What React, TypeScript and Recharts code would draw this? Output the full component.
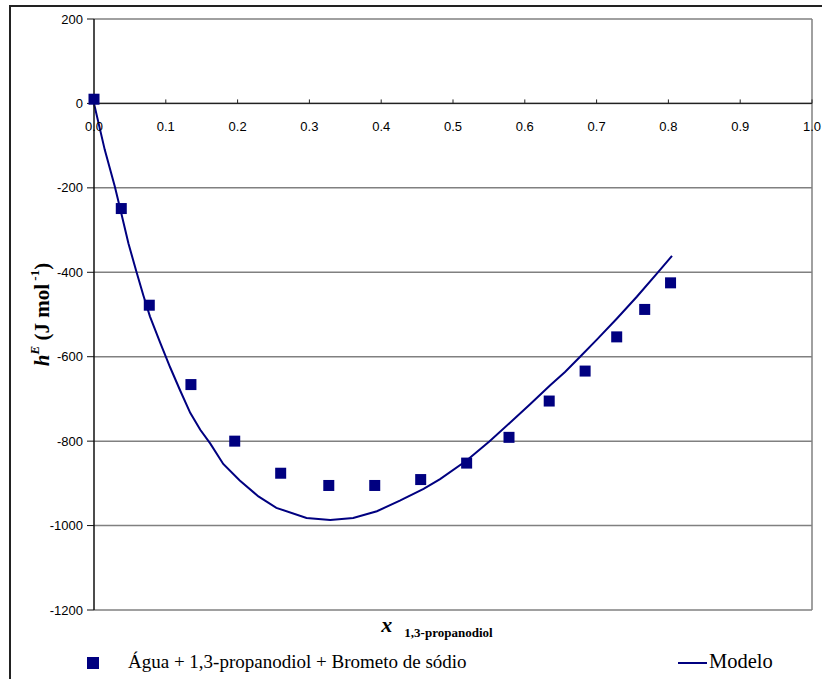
import React from "react";
import {
  ComposedChart,
  Line,
  Scatter,
  XAxis,
  YAxis,
  CartesianGrid,
  ReferenceLine,
  ReferenceDot,
  Legend,
} from "recharts";

// Experimental data: Água + 1,3-propanodiol + Brometo de sódio
const expX = [0, 0.038, 0.077, 0.135, 0.196, 0.26, 0.327, 0.391, 0.455, 0.519, 0.578, 0.634, 0.684, 0.728, 0.767, 0.803];
const expY = [10, -249, -478, -666, -800, -876, -905, -905, -891, -852, -791, -705, -634, -553, -488, -425];

// Model curve
const modelX = [0, 0.015, 0.029, 0.037, 0.048, 0.059, 0.069, 0.078, 0.092, 0.106, 0.12, 0.134, 0.148, 0.162, 0.18, 0.203, 0.229, 0.254, 0.296, 0.329, 0.361, 0.394, 0.426, 0.459, 0.482, 0.519, 0.551, 0.579, 0.607, 0.635, 0.656, 0.677, 0.7, 0.728, 0.756, 0.786, 0.805];
const modelY = [0, -110, -197, -253, -332, -398, -456, -505, -566, -625, -680, -733, -773, -806, -854, -893, -931, -958, -982, -987, -982, -966, -941, -913, -890, -846, -800, -757, -713, -668, -636, -600, -560, -510, -458, -399, -361];

const xTicks = [0, 0.1, 0.2, 0.3, 0.4, 0.5, 0.6, 0.7, 0.8, 0.9, 1.0];
const xTickLabels = ["0.0", "0.1", "0.2", "0.3", "0.4", "0.5", "0.6", "0.7", "0.8", "0.9", "1.0"];
const yTicks = [-1200, -1000, -800, -600, -400, -200, 0, 200];

const seriesName = "Água + 1,3-propanodiol + Brometo de sódio";
const modelName = "Modelo";

const expData = expX.map((x, i) => ({ x, y: expY[i] }));
const modelData = modelX.map((x, i) => ({ x, y: modelY[i] }));

const NAVY = "#000080";
const SANS = "'Liberation Sans', Arial, sans-serif";
const SERIF = "'Liberation Serif', 'Times New Roman', serif";

const Square = (props: any) => {
  const { cx, cy } = props;
  if (cx == null || cy == null) return <g />;
  return <rect x={cx - 5.5} y={cy - 5.5} width={11} height={11} fill={NAVY} />;
};

const makeXTick = (label: string, showMark: boolean) => (props: any) => {
  const { cx, cy } = props;
  return (
    <g>
      {showMark && <line x1={cx} x2={cx} y1={cy} y2={cy - 4} stroke="#222" strokeWidth={1} />}
      <text x={cx} y={cy + 28} textAnchor="middle" fontFamily={SANS} fontSize={13} fill="#000">
        {label}
      </text>
    </g>
  );
};

const YLabel = (props: any) => {
  const vb = props.viewBox || {};
  const cx = vb.x + 32;
  const cy = vb.y + vb.height / 2;
  return (
    <text
      x={cx}
      y={cy}
      transform={`rotate(-90 ${cx} ${cy})`}
      textAnchor="middle"
      dominantBaseline="central"
      fontFamily={SERIF}
      fontWeight="bold"
      fontSize={21}
      fill="#000"
    >
      <tspan fontStyle="italic">h</tspan>
      <tspan fontStyle="italic" fontSize={13} dy={-8}>E</tspan>
      <tspan dy={8}> (J mol</tspan>
      <tspan fontSize={13} dy={-8}> -1</tspan>
      <tspan dy={8}>)</tspan>
    </text>
  );
};

const XLabel = (props: any) => {
  const vb = props.viewBox || {};
  const cx = vb.x + vb.width / 2 - 16;
  const base = vb.y + 22;
  return (
    <text x={cx} y={base} textAnchor="middle" fontFamily={SERIF} fontWeight="bold" fill="#000">
      <tspan fontStyle="italic" fontSize={22}>x</tspan>
      <tspan fontSize={13} dy={5} dx={12}>1,3-propanodiol</tspan>
    </text>
  );
};

const renderLegend = () => (
  <div style={{ position: "relative", width: 822, height: 26, fontFamily: SERIF, fontSize: 19, color: "#000" }}>
    <div style={{ position: "absolute", left: 87, top: 7, width: 12, height: 12, background: NAVY }} />
    <span style={{ position: "absolute", left: 128, top: 1, whiteSpace: "nowrap" }}>{seriesName}</span>
    <div style={{ position: "absolute", left: 678, top: 12, width: 29, height: 2, background: NAVY }} />
    <span style={{ position: "absolute", left: 709, top: 0, fontSize: 20.5, whiteSpace: "nowrap" }}>{modelName}</span>
  </div>
);

export default function App() {
  return (
    <div style={{ position: "absolute", left: 0, top: 0, width: 822, height: 679, overflow: "hidden", background: "#fff" }}>
      <div
        style={{
          position: "absolute",
          left: 9,
          top: 5,
          width: 900,
          height: 900,
          border: "2px solid #222",
          boxSizing: "border-box",
        }}
      />
      <div style={{ position: "absolute", left: 0, top: 0 }}>
        <ComposedChart width={822} height={679} margin={{ top: 19, right: 10, left: 10, bottom: 39 }}>
          <CartesianGrid vertical={false} stroke="#808080" strokeWidth={1.5} />
          <XAxis
            dataKey="x"
            type="number"
            domain={[0, 1]}
            ticks={xTicks}
            tick={false}
            tickLine={false}
            axisLine={false}
            height={30}
            label={<XLabel />}
          />
          <YAxis
            type="number"
            domain={[-1200, 200]}
            ticks={yTicks}
            width={84}
            tickSize={7}
            tickMargin={4}
            interval={0}
            axisLine={{ stroke: "#111", strokeWidth: 1.5 }}
            tickLine={{ stroke: "#111", strokeWidth: 1 }}
            tick={{ fontFamily: SANS, fontSize: 13, fill: "#000" }}
            label={<YLabel />}
          />
          <ReferenceLine x={1} stroke="#808080" strokeWidth={1.5} />
          <ReferenceLine y={0} stroke="#222" strokeWidth={1.3} />
          {xTicks.map((t, i) => (
            <ReferenceDot key={t} x={t} y={0} shape={makeXTick(xTickLabels[i], i > 0)} />
          ))}
          <Line
            data={modelData}
            dataKey="y"
            type="linear"
            stroke={NAVY}
            strokeWidth={2}
            dot={false}
            activeDot={false}
            isAnimationActive={false}
            name={modelName}
          />
          <Scatter data={expData} dataKey="y" shape={<Square />} isAnimationActive={false} name={seriesName} />
          <Legend
            content={renderLegend}
            layout="vertical"
            align="center"
            verticalAlign="middle"
            wrapperStyle={{ top: 650, left: 0, width: 822, height: 26 }}
          />
        </ComposedChart>
      </div>
    </div>
  );
}
